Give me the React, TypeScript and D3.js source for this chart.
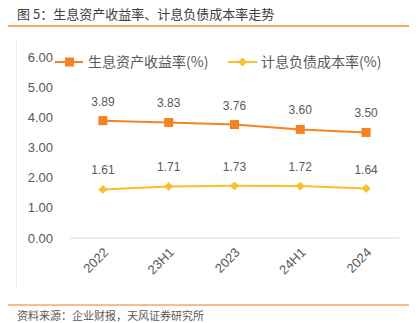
import React from "react";
import * as d3 from "d3";

const categories = ["2022", "23H1", "2023", "24H1", "2024"];
const assetYield = [3.89, 3.83, 3.76, 3.60, 3.50];
const liabilityCost = [1.61, 1.71, 1.73, 1.72, 1.64];
const yTicks = [0, 1, 2, 3, 4, 5, 6];
const seriesNames = ["生息资产收益率(%)", "计息负债成本率(%)"];
const title = "图 5：生息资产收益率、计息负债成本率走势";
const source = "资料来源：企业财报，天风证券研究所";

const ORANGE = "#F58220";
const YELLOW = "#FBBE2C";
const FONT = "'Liberation Sans', 'Noto Sans CJK SC', sans-serif";

export default function App() {
  const W = 418, H = 323;
  const x = d3.scaleBand<string>().domain(categories).range([70, 399]);
  const y = d3.scaleLinear().domain([0, 6]).range([238, 57]);
  const cx = (c: string) => (x(c) as number) + x.bandwidth() / 2;
  const line = d3.line<number>().x((_, i) => cx(categories[i])).y((d) => y(d));

  return (
    <svg width={W} height={H} style={{ position: "absolute", left: 0, top: 0, background: "#fff" }} fontFamily={FONT}>
      <text x={17} y={19} fontSize={13} fill="#404040" fontFamily="'Noto Sans CJK SC', sans-serif" style={{ whiteSpace: "pre" }}>{title}</text>
      <line x1={8} x2={409} y1={26} y2={26} stroke="#F28C28" strokeWidth={1.5} />
      <line x1={16.5} x2={16.5} y1={40} y2={290} stroke="#f0f0f0" strokeWidth={1} />

      {yTicks.map((t) => (
        <text key={t} x={53} y={y(t)} dy="0.35em" textAnchor="end" fontSize={13} fill="#595959">
          {t.toFixed(2)}
        </text>
      ))}
      <line x1={70} x2={399} y1={y(0)} y2={y(0)} stroke="#d9d9d9" strokeWidth={1} />

      {categories.map((c) => (
        <text key={c} transform={`translate(${cx(c) + 3},${y(0) + 12}) rotate(-45)`} textAnchor="end" dy="0.35em" fontSize={13} fill="#595959">
          {c}
        </text>
      ))}

      <path d={line(assetYield) || ""} fill="none" stroke={ORANGE} strokeWidth={2} />
      {assetYield.map((v, i) => (
        <g key={i}>
          <rect x={cx(categories[i]) - 4.5} y={y(v) - 4.5} width={9} height={9} fill={ORANGE} />
          <text x={cx(categories[i])} y={y(v) - 15} textAnchor="middle" fontSize={12} fill="#595959">{v.toFixed(2)}</text>
        </g>
      ))}

      <path d={line(liabilityCost) || ""} fill="none" stroke={YELLOW} strokeWidth={2} />
      {liabilityCost.map((v, i) => (
        <g key={i}>
          <path d={d3.symbol(d3.symbolDiamond2, 50)() || ""} transform={`translate(${cx(categories[i])},${y(v)})`} fill={YELLOW} />
          <text x={cx(categories[i])} y={y(v) - 15} textAnchor="middle" fontSize={12} fill="#595959">{v.toFixed(2)}</text>
        </g>
      ))}

      <line x1={55} x2={83} y1={62} y2={62} stroke={ORANGE} strokeWidth={2} />
      <rect x={65} y={57.5} width={9} height={9} fill={ORANGE} />
      <text x={88} y={62} dy="0.35em" fontSize={14} fill="#595959" fontFamily="'Noto Sans CJK SC', sans-serif">{seriesNames[0]}</text>
      <line x1={228} x2={257} y1={62} y2={62} stroke={YELLOW} strokeWidth={2} />
      <path d={d3.symbol(d3.symbolDiamond2, 50)() || ""} transform="translate(242.5,62)" fill={YELLOW} />
      <text x={261} y={62} dy="0.35em" fontSize={14} fill="#595959" fontFamily="'Noto Sans CJK SC', sans-serif">{seriesNames[1]}</text>

      <line x1={8} x2={409} y1={305} y2={305} stroke="#F5A66B" strokeWidth={1.5} />
      <text x={17} y={320} fontSize={11} fill="#595959" fontFamily="'Noto Sans CJK SC', sans-serif">{source}</text>
    </svg>
  );
}
